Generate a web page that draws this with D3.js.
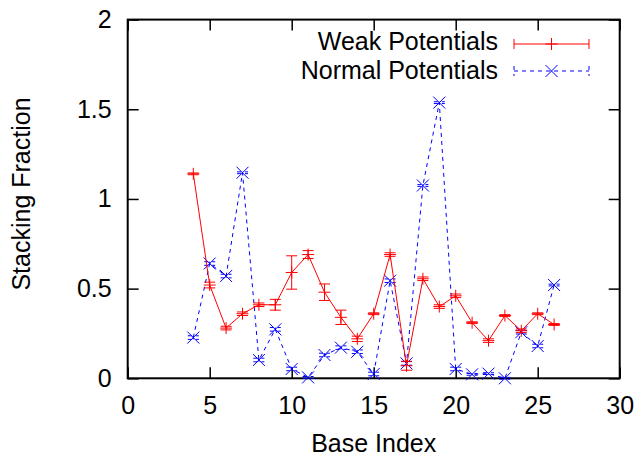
<!DOCTYPE html>
<html>
<head>
<meta charset="utf-8">
<script src="https://cdn.jsdelivr.net/npm/d3@7"></script>
<style>
  body { margin: 0; background: #fff; }
  text { font-family: 'Liberation Sans', Arial, Helvetica, sans-serif; }
</style>
</head>
<body>
<div id="chart"></div>
<script>
// data
const baseIndex = [4, 5, 6, 7, 8, 9, 10, 11, 12, 13, 14, 15, 16, 17, 18, 19, 20, 21, 22, 23, 24, 25, 26]
const weak = [1.14, 0.52, 0.28, 0.36, 0.41, 0.41, 0.59, 0.69, 0.48, 0.34, 0.22, 0.36, 0.69, 0.07, 0.555, 0.40, 0.46, 0.31, 0.21, 0.35, 0.265, 0.36, 0.30]
const weakErr = [0.005, 0.016, 0.01, 0.01, 0.01, 0.03, 0.093, 0.022, 0.046, 0.04, 0.015, 0.005, 0.01, 0.025, 0.01, 0.01, 0.01, 0.005, 0.01, 0.005, 0.01, 0.005, 0.005]
const normal = [0.227, 0.64, 0.57, 1.146, 0.102, 0.273, 0.052, 0.005, 0.13, 0.171, 0.148, 0.024, 0.544, 0.083, 1.075, 1.537, 0.052, 0.022, 0.026, 0.0, 0.257, 0.18, 0.52]
const normalErr = [0.01, 0.01, 0.01, 0.005, 0.01, 0.01, 0.01, 0.005, 0.01, 0.01, 0.01, 0.01, 0.01, 0.01, 0.005, 0.005, 0.01, 0.005, 0.005, 0.005, 0.01, 0.01, 0.005]
const xTicks = [0, 5, 10, 15, 20, 25, 30]
const yTicks = [0, 0.5, 1, 1.5, 2]
const seriesNames = ['Weak Potentials', 'Normal Potentials']

const dimension = { width: 639, height: 455 }
const margin = { top: 19.6, right: 19.3, bottom: 76.7, left: 127.7 }
const width = dimension.width - margin.left - margin.right
const height = dimension.height - margin.top - margin.bottom
const fontSize = 25
const tickLen = 11
const cap = 5.5
const mark = 6

const svgElement = d3
  .select('#chart')
  .append('svg')
  .attr('width', dimension.width)
  .attr('height', dimension.height)

const svg = svgElement
  .append('g')
  .attr('transform', `translate(${margin.left}, ${margin.top})`)

const xScale = d3.scaleLinear().domain([0, 30]).range([0, width])
const yScale = d3.scaleLinear().domain([0, 2]).range([height, 0])

const fmt = d3.format('~g')

// axes (ticks point inward, mirrored on top and right like gnuplot)
const styleAxis = (g) => {
  g.select('.domain').remove()
  g.selectAll('.tick line').attr('stroke', '#000').attr('stroke-width', 1.5)
  g.selectAll('.tick text')
    .attr('fill', '#000')
    .attr('font-size', fontSize)
    .attr('font-family', "'Liberation Sans', Arial, sans-serif")
}

svg
  .append('g')
  .attr('class', 'xaxis')
  .attr('transform', `translate(0, ${height})`)
  .call(d3.axisBottom(xScale).tickValues(xTicks).tickFormat(fmt).tickSizeInner(-tickLen).tickSizeOuter(0).tickPadding(18))
  .call(styleAxis)

svg
  .append('g')
  .attr('class', 'yaxis')
  .call(d3.axisLeft(yScale).tickValues(yTicks).tickFormat(fmt).tickSizeInner(-tickLen).tickSizeOuter(0).tickPadding(16))
  .call(styleAxis)

svg
  .append('g')
  .call(d3.axisTop(xScale).tickValues(xTicks).tickFormat('').tickSizeInner(-tickLen).tickSizeOuter(0))
  .call(styleAxis)

svg
  .append('g')
  .attr('transform', `translate(${width}, 0)`)
  .call(d3.axisRight(yScale).tickValues(yTicks).tickFormat('').tickSizeInner(-tickLen).tickSizeOuter(0))
  .call(styleAxis)

svg
  .append('rect')
  .attr('width', width)
  .attr('height', height)
  .attr('fill', 'none')
  .attr('stroke', '#000')
  .attr('stroke-width', 2)

// axis titles
svgElement
  .append('text')
  .attr('x', margin.left + width / 2)
  .attr('y', 451.5)
  .attr('text-anchor', 'middle')
  .attr('font-size', fontSize)
  .text('Base Index')

svgElement
  .append('text')
  .attr('transform', `translate(30, 194) rotate(-90)`)
  .attr('text-anchor', 'middle')
  .attr('font-size', fontSize)
  .text('Stacking Fraction')

// series
const weakData = baseIndex.map((x, i) => ({ x, y: weak[i], e: weakErr[i] }))
const normalData = baseIndex.map((x, i) => ({ x, y: normal[i], e: normalErr[i] }))

const line = d3
  .line()
  .x((d) => xScale(d.x))
  .y((d) => yScale(d.y))

const drawSeries = (data, color, dash, symbol) => {
  const g = svg.append('g').attr('stroke', color).attr('fill', 'none').attr('stroke-width', 1)

  g.append('path').attr('d', line(data)).attr('stroke-dasharray', dash)

  const pts = g
    .selectAll('g.pt')
    .data(data)
    .enter()
    .append('g')
    .attr('class', 'pt')
    .attr('transform', (d) => `translate(${xScale(d.x)}, ${yScale(d.y)})`)

  // error bars with caps
  pts.append('path')
    .attr('stroke-dasharray', dash)
    .attr('d', (d) => {
      const lo = yScale(d.y - d.e) - yScale(d.y)
      const hi = yScale(d.y + d.e) - yScale(d.y)
      return `M0,${lo}V${hi}M${-cap},${lo}H${cap}M${-cap},${hi}H${cap}`
    })

  pts.append('path').attr('d', symbol)
}

const plus = `M${-mark},0H${mark}M0,${-mark}V${mark}`
const cross = `M${-mark},${-mark}L${mark},${mark}M${-mark},${mark}L${mark},${-mark}`

drawSeries(normalData, '#0000ff', '4,4', cross)
drawSeries(weakData, '#ff0000', null, plus)

// legend
const legend = svgElement.append('g')
const rows = [
  { name: seriesNames[0], color: '#ff0000', dash: null, symbol: plus, y: 49.5, ly: 44 },
  { name: seriesNames[1], color: '#0000ff', dash: '4,4', symbol: cross, y: 78.5, ly: 71 },
]
rows.forEach((r) => {
  legend
    .append('text')
    .attr('x', 498)
    .attr('y', r.y)
    .attr('text-anchor', 'end')
    .attr('font-size', fontSize)
    .text(r.name)
  const s = legend.append('g').attr('stroke', r.color).attr('fill', 'none').attr('stroke-width', 1)
  s.append('path')
    .attr('stroke-dasharray', r.dash)
    .attr('d', `M514,${r.ly}H589M514,${r.ly - 5}V${r.ly + 5}M589,${r.ly - 5}V${r.ly + 5}`)
  s.append('path').attr('transform', `translate(551.5, ${r.ly})`).attr('d', r.symbol)
})
</script>
</body>
</html>
